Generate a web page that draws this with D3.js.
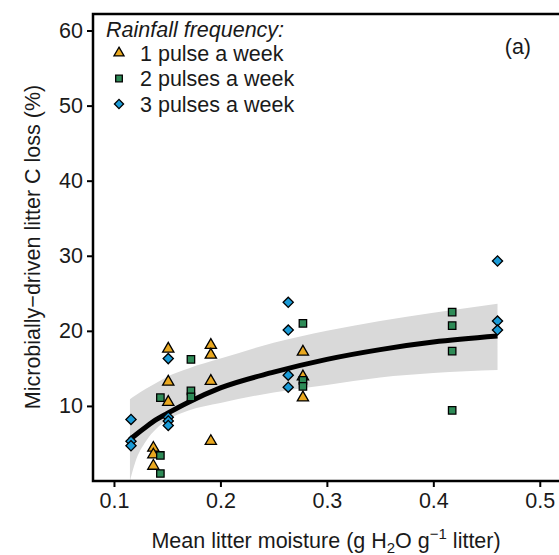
<!DOCTYPE html>
<html>
<head>
<meta charset="utf-8">
<script src="https://cdn.jsdelivr.net/npm/d3@7"></script>
<style>
  body { margin: 0; background: #fff; }
  text { font-family: "Liberation Sans", Arial, sans-serif; fill: #1a1a1a; }
</style>
</head>
<body>
<div id="chart"></div>
<script>
// x positions (litter moisture) and C loss values
var onePulseX = [0.137, 0.137, 0.137, 0.151, 0.151, 0.151, 0.191, 0.191, 0.191, 0.191, 0.2775, 0.2775, 0.2775];
var onePulseY = [4.4, 3.5, 2.0, 17.6, 13.2, 10.5, 18.1, 16.8, 13.3, 5.3, 17.2, 13.9, 11.1];
var twoPulseX = [0.1436, 0.1436, 0.1436, 0.1723, 0.1723, 0.1723, 0.2775, 0.2775, 0.2775, 0.4177, 0.4177, 0.4177, 0.4177];
var twoPulseY = [11.1, 3.4, 1.0, 16.2, 12.0, 11.2, 21.0, 13.4, 12.6, 22.5, 20.7, 17.3, 9.4];
var threePulseX = [0.116, 0.116, 0.116, 0.151, 0.151, 0.151, 0.151, 0.2637, 0.2637, 0.2637, 0.2637, 0.4603, 0.4603, 0.4603];
var threePulseY = [8.2, 5.3, 4.7, 16.3, 8.5, 8.0, 7.4, 23.8, 20.1, 14.1, 12.5, 29.3, 21.3, 20.1];

// fitted curve and its confidence band, read at a few moisture values
var fitX  = [0.115, 0.12, 0.13, 0.14, 0.15, 0.17, 0.2, 0.25, 0.3, 0.35, 0.4, 0.4603];
var fitY  = [5.5, 6.1, 7.2, 8.2, 9.0, 10.5, 12.4, 14.5, 16.2, 17.5, 18.5, 19.3];
var fitLo = [0.0, 2.5, 5.3, 7.0, 8.1, 9.4, 10.4, 11.8, 12.8, 13.8, 14.4, 14.8];
var fitHi = [10.9, 11.4, 12.3, 13.1, 13.9, 15.0, 16.3, 18.4, 20.0, 21.3, 22.4, 23.6];

var xTicks = [0.1, 0.2, 0.3, 0.4, 0.5];
var yTicks = [10, 20, 30, 40, 50, 60];
var legendLabels = ["1 pulse a week", "2 pulses a week", "3 pulses a week"];

var width = 559, height = 555;
var box = {left: 93, top: 14, right: 593, bottom: 481};
var fontSize = "21.5px";

var svg = d3.select("#chart").append("svg")
    .attr("width", width)
    .attr("height", height);

var x = d3.scaleLinear().domain([0.0803, 0.55]).range([box.left, box.right]);
var y = d3.scaleLinear().domain([0, 62.2]).range([box.bottom, box.top]);

svg.append("clipPath").attr("id", "plotClip")
    .append("rect")
    .attr("x", box.left).attr("y", box.top)
    .attr("width", box.right - box.left).attr("height", box.bottom - box.top);

var plot = svg.append("g").attr("clip-path", "url(#plotClip)");

// confidence ribbon
var band = fitX.map((d, i) => ({x: d, lo: fitLo[i], hi: fitHi[i], fit: fitY[i]}));
var area = d3.area()
    .x(d => x(d.x))
    .y0(d => y(d.lo))
    .y1(d => y(d.hi))
    .curve(d3.curveMonotoneX);
plot.append("path")
    .attr("d", area(band))
    .attr("fill", "#d9d9d9");

// fitted line
var line = d3.line()
    .x(d => x(d.x))
    .y(d => y(d.fit))
    .curve(d3.curveMonotoneX);
plot.append("path")
    .attr("d", line(band))
    .attr("fill", "none")
    .attr("stroke", "#000")
    .attr("stroke-width", 5);

// point symbols (diamond = square turned 45 degrees, like ggplot shape 23)
var groups = [
    {xs: onePulseX, ys: onePulseY, sym: d3.symbolTriangle, size: 55, rot: 0, fill: "#E9A820"},
    {xs: twoPulseX, ys: twoPulseY, sym: d3.symbolSquare, size: 55, rot: 0, fill: "#2E8B57"},
    {xs: threePulseX, ys: threePulseY, sym: d3.symbolSquare, size: 52, rot: 45, fill: "#1A9AD6"}
];

groups.forEach(g => {
    var pts = g.xs.map((d, i) => [d, g.ys[i]]);
    plot.selectAll(null)
        .data(pts)
        .enter().append("path")
        .attr("d", d3.symbol().type(g.sym).size(g.size))
        .attr("transform", d => "translate(" + x(d[0]) + "," + y(d[1]) + ") rotate(" + g.rot + ")")
        .attr("fill", g.fill)
        .attr("stroke", "#000")
        .attr("stroke-width", 1.3);
});

// frame
svg.append("rect")
    .attr("x", box.left).attr("y", box.top)
    .attr("width", box.right - box.left).attr("height", box.bottom - box.top)
    .attr("fill", "none")
    .attr("stroke", "#000")
    .attr("stroke-width", 2.5);

// axes
var xAxis = d3.axisBottom(x).tickValues(xTicks).tickFormat(d3.format(".1f")).tickSize(6).tickPadding(6);
var yAxis = d3.axisLeft(y).tickValues(yTicks).tickSize(6).tickPadding(4);

var gx = svg.append("g")
    .attr("transform", "translate(0," + box.bottom + ")")
    .call(xAxis);
var gy = svg.append("g")
    .attr("transform", "translate(" + box.left + ",0)")
    .call(yAxis);

[gx, gy].forEach(g => {
    g.select(".domain").remove();
    g.selectAll(".tick line").attr("stroke", "#000").attr("stroke-width", 2);
    g.selectAll(".tick text")
        .attr("fill", "#1a1a1a")
        .style("font-family", "'Liberation Sans', Arial, sans-serif")
        .style("font-size", fontSize);
});

// axis titles
var xt = svg.append("text")
    .attr("x", 326)
    .attr("y", 548)
    .attr("text-anchor", "middle")
    .style("font-size", fontSize);
xt.append("tspan").text("Mean litter moisture (g H");
xt.append("tspan").attr("dy", 5).style("font-size", "15px").text("2");
xt.append("tspan").attr("dy", -5).text("O g");
xt.append("tspan").attr("dy", -9).style("font-size", "15px").text("\u22121");
xt.append("tspan").attr("dy", 9).text(" litter)");

svg.append("text")
    .attr("transform", "translate(40,247) rotate(-90)")
    .attr("text-anchor", "middle")
    .style("font-size", fontSize)
    .text("Microbially\u2212driven litter C loss (%)");

// panel tag
svg.append("text")
    .attr("x", 531)
    .attr("y", 54)
    .attr("text-anchor", "end")
    .style("font-size", fontSize)
    .text("(a)");

// legend
svg.append("text")
    .attr("x", 106)
    .attr("y", 37)
    .style("font-size", fontSize)
    .style("font-style", "italic")
    .text("Rainfall frequency:");

legendLabels.forEach((lab, i) => {
    var g = groups[i];
    var cy = 53 + i * 25.5;
    svg.append("path")
        .attr("d", d3.symbol().type(g.sym).size(g.size * 0.8))
        .attr("transform", "translate(119," + cy + ") rotate(" + g.rot + ")")
        .attr("fill", g.fill)
        .attr("stroke", "#000")
        .attr("stroke-width", 1.3);
    svg.append("text")
        .attr("x", 140)
        .attr("y", cy + 7.5)
        .style("font-size", fontSize)
        .text(lab);
});
</script>
</body>
</html>
